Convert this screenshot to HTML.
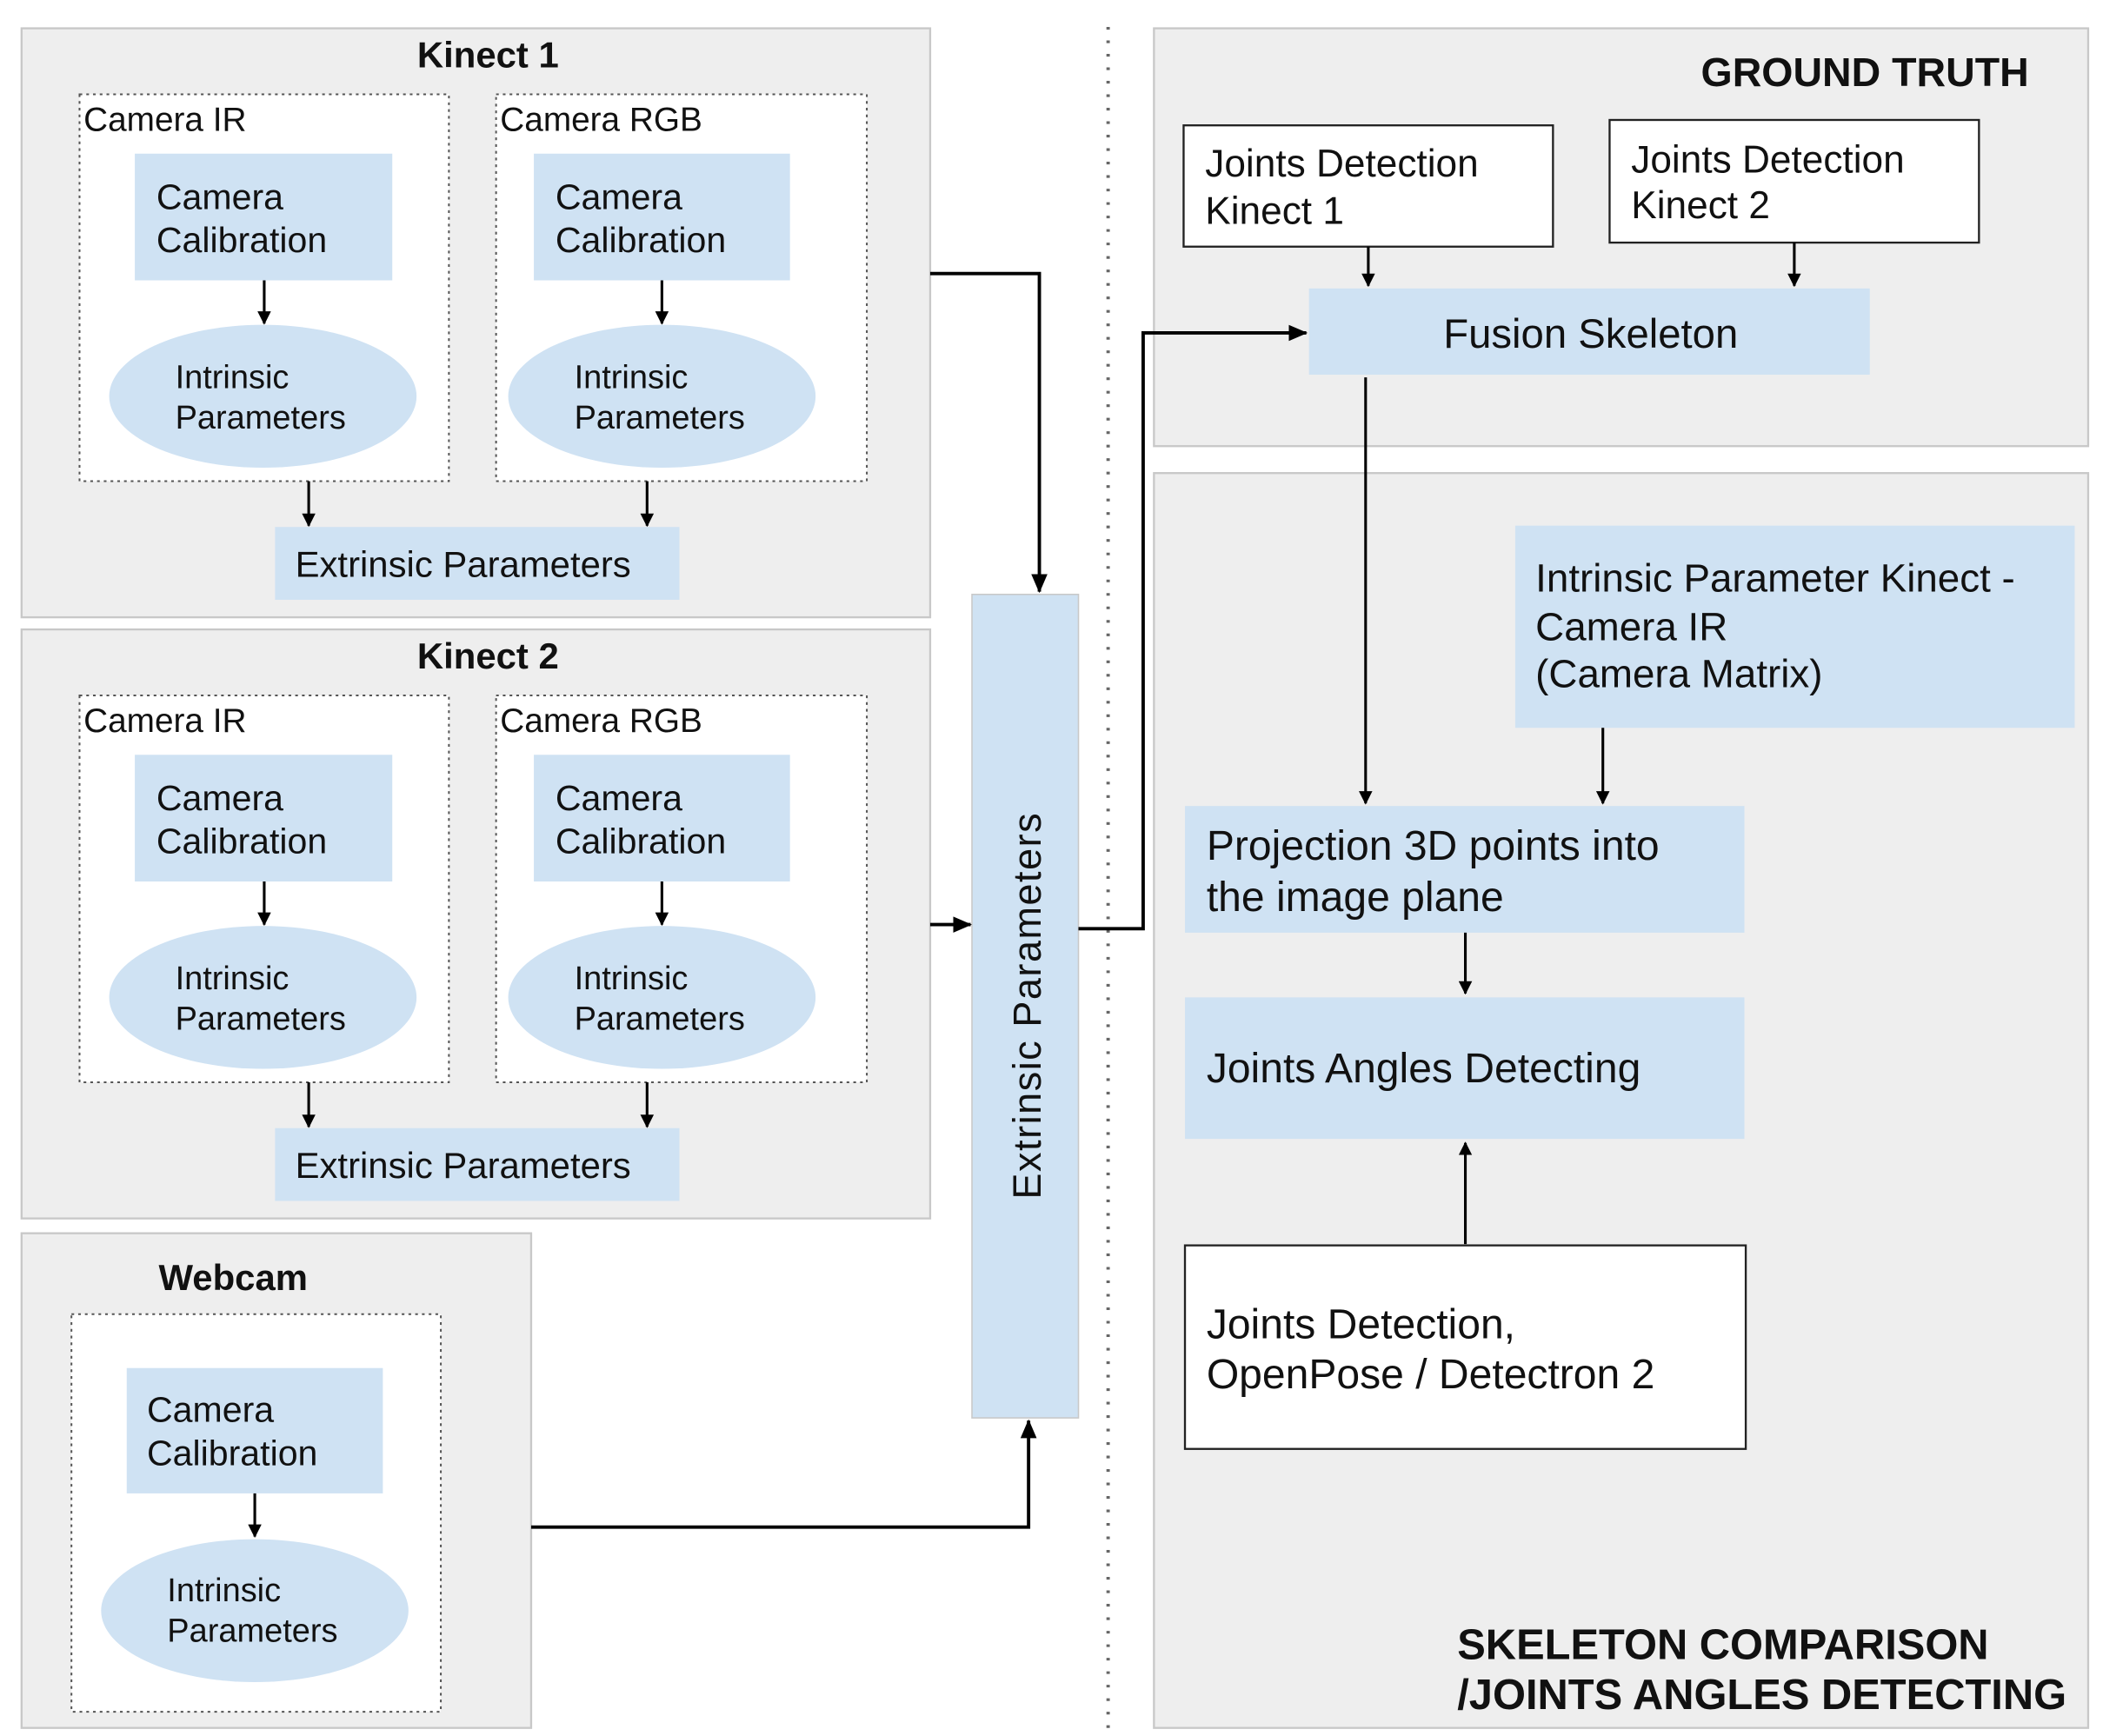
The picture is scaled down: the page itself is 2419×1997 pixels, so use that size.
<!DOCTYPE html>
<html><head><meta charset="utf-8"><style>
html,body{margin:0;padding:0;background:#fff;overflow:hidden}
svg{display:block}
text{font-family:"Liberation Sans",Arial,sans-serif;fill:#111}
</style></head><body>
<svg width="2419" height="1997" viewBox="0 0 1560 1288" preserveAspectRatio="none" xmlns="http://www.w3.org/2000/svg">
<defs>
<marker id="a" markerWidth="10" markerHeight="10" refX="9" refY="5" orient="auto" markerUnits="userSpaceOnUse" viewBox="0 0 10 10">
<path d="M0,0 L10,5 L0,10 z" fill="#000"/></marker>
<marker id="b" markerWidth="14" markerHeight="14" refX="13" refY="7" orient="auto" markerUnits="userSpaceOnUse" viewBox="0 0 14 14">
<path d="M0,1 L14,7 L0,13 z" fill="#000"/></marker>
</defs>
<g>
<rect x="16" y="21" width="674" height="437" fill="#eeeeee" stroke="#c8c8c8" stroke-width="1.5"/>
<text x="362" y="50" font-size="27" font-weight="bold" text-anchor="middle">Kinect 1</text>
<rect x="59" y="70" width="274" height="287" fill="#fff" stroke="#555" stroke-width="1.3" stroke-dasharray="2,3"/>
<text x="62" y="97" font-size="25">Camera IR</text>
<rect x="100" y="114" width="191" height="94" fill="#cfe2f3"/>
<text x="116" y="155" font-size="26.5">Camera</text><text x="116" y="187" font-size="26.5">Calibration</text>
<line x1="196" y1="208" x2="196" y2="240" stroke="#000" stroke-width="2" marker-end="url(#a)"/>
<ellipse cx="195" cy="294" rx="114" ry="53" fill="#cfe2f3"/>
<text x="130" y="288" font-size="24.5">Intrinsic</text><text x="130" y="318" font-size="24.5">Parameters</text>
<rect x="368" y="70" width="275" height="287" fill="#fff" stroke="#555" stroke-width="1.3" stroke-dasharray="2,3"/>
<text x="371" y="97" font-size="25">Camera RGB</text>
<rect x="396" y="114" width="190" height="94" fill="#cfe2f3"/>
<text x="412" y="155" font-size="26.5">Camera</text><text x="412" y="187" font-size="26.5">Calibration</text>
<line x1="491" y1="208" x2="491" y2="240" stroke="#000" stroke-width="2" marker-end="url(#a)"/>
<ellipse cx="491" cy="294" rx="114" ry="53" fill="#cfe2f3"/>
<text x="426" y="288" font-size="24.5">Intrinsic</text><text x="426" y="318" font-size="24.5">Parameters</text>
<line x1="229" y1="357" x2="229" y2="390" stroke="#000" stroke-width="2" marker-end="url(#a)"/>
<line x1="480" y1="357" x2="480" y2="390" stroke="#000" stroke-width="2" marker-end="url(#a)"/>
<rect x="204" y="391" width="300" height="54" fill="#cfe2f3"/>
<text x="219" y="428" font-size="27">Extrinsic Parameters</text>
</g>
<g transform="translate(0,446)">
<rect x="16" y="21" width="674" height="437" fill="#eeeeee" stroke="#c8c8c8" stroke-width="1.5"/>
<text x="362" y="50" font-size="27" font-weight="bold" text-anchor="middle">Kinect 2</text>
<rect x="59" y="70" width="274" height="287" fill="#fff" stroke="#555" stroke-width="1.3" stroke-dasharray="2,3"/>
<text x="62" y="97" font-size="25">Camera IR</text>
<rect x="100" y="114" width="191" height="94" fill="#cfe2f3"/>
<text x="116" y="155" font-size="26.5">Camera</text><text x="116" y="187" font-size="26.5">Calibration</text>
<line x1="196" y1="208" x2="196" y2="240" stroke="#000" stroke-width="2" marker-end="url(#a)"/>
<ellipse cx="195" cy="294" rx="114" ry="53" fill="#cfe2f3"/>
<text x="130" y="288" font-size="24.5">Intrinsic</text><text x="130" y="318" font-size="24.5">Parameters</text>
<rect x="368" y="70" width="275" height="287" fill="#fff" stroke="#555" stroke-width="1.3" stroke-dasharray="2,3"/>
<text x="371" y="97" font-size="25">Camera RGB</text>
<rect x="396" y="114" width="190" height="94" fill="#cfe2f3"/>
<text x="412" y="155" font-size="26.5">Camera</text><text x="412" y="187" font-size="26.5">Calibration</text>
<line x1="491" y1="208" x2="491" y2="240" stroke="#000" stroke-width="2" marker-end="url(#a)"/>
<ellipse cx="491" cy="294" rx="114" ry="53" fill="#cfe2f3"/>
<text x="426" y="288" font-size="24.5">Intrinsic</text><text x="426" y="318" font-size="24.5">Parameters</text>
<line x1="229" y1="357" x2="229" y2="390" stroke="#000" stroke-width="2" marker-end="url(#a)"/>
<line x1="480" y1="357" x2="480" y2="390" stroke="#000" stroke-width="2" marker-end="url(#a)"/>
<rect x="204" y="391" width="300" height="54" fill="#cfe2f3"/>
<text x="219" y="428" font-size="27">Extrinsic Parameters</text>
</g>
<rect x="16" y="915" width="378" height="367" fill="#eeeeee" stroke="#c8c8c8" stroke-width="1.5"/>
<text x="173" y="957" font-size="27" font-weight="bold" text-anchor="middle">Webcam</text>
<rect x="53" y="975" width="274" height="295" fill="#fff" stroke="#555" stroke-width="1.3" stroke-dasharray="2,3"/>
<rect x="94" y="1015" width="190" height="93" fill="#cfe2f3"/>
<text x="109" y="1055" font-size="26.5">Camera</text><text x="109" y="1087" font-size="26.5">Calibration</text>
<line x1="189" y1="1108" x2="189" y2="1140" stroke="#000" stroke-width="2" marker-end="url(#a)"/>
<ellipse cx="189" cy="1195" rx="114" ry="53" fill="#cfe2f3"/>
<text x="124" y="1188" font-size="24.5">Intrinsic</text><text x="124" y="1218" font-size="24.5">Parameters</text>
<rect x="721" y="441" width="79" height="611" fill="#cfe2f3" stroke="#c8c8c8" stroke-width="1"/>
<text transform="translate(772,746) rotate(-90)" font-size="29" text-anchor="middle" letter-spacing="1">Extrinsic Parameters</text>
<polyline points="394,1133 763,1133 763,1054" fill="none" stroke="#000" stroke-width="2.5" marker-end="url(#b)"/>
<polyline points="690,203 771,203 771,439" fill="none" stroke="#000" stroke-width="2.5" marker-end="url(#b)"/>
<line x1="690" y1="686" x2="720" y2="686" stroke="#000" stroke-width="2.5" marker-end="url(#b)"/>
<line x1="822" y1="20" x2="822" y2="1282" stroke="#666" stroke-width="2.5" stroke-dasharray="2,8"/>
<rect x="856" y="21" width="693" height="310" fill="#eeeeee" stroke="#c8c8c8" stroke-width="1.5"/>
<text x="1505" y="64" font-size="30" font-weight="bold" text-anchor="end">GROUND TRUTH</text>
<rect x="878" y="93" width="274" height="90" fill="#fff" stroke="#222" stroke-width="1.5"/>
<text x="894" y="131" font-size="28.5">Joints Detection</text><text x="894" y="166" font-size="28.5">Kinect 1</text>
<rect x="1194" y="89" width="274" height="91" fill="#fff" stroke="#222" stroke-width="1.5"/>
<text x="1210" y="128" font-size="28.5">Joints Detection</text><text x="1210" y="162" font-size="28.5">Kinect 2</text>
<line x1="1015" y1="183" x2="1015" y2="212" stroke="#000" stroke-width="2" marker-end="url(#a)"/>
<line x1="1331" y1="180" x2="1331" y2="212" stroke="#000" stroke-width="2" marker-end="url(#a)"/>
<rect x="856" y="351" width="693" height="931" fill="#eeeeee" stroke="#c8c8c8" stroke-width="1.5"/>
<rect x="971" y="214" width="416" height="64" fill="#cfe2f3"/>
<text x="1180" y="258" font-size="30.5" text-anchor="middle">Fusion Skeleton</text>
<polyline points="800,689 848,689 848,247 969,247" fill="none" stroke="#000" stroke-width="2.5" marker-end="url(#b)"/>
<line x1="1013" y1="280" x2="1013" y2="596" stroke="#000" stroke-width="2" marker-end="url(#a)"/>
<rect x="1124" y="390" width="415" height="150" fill="#cfe2f3"/>
<text x="1139" y="439" font-size="29.5">Intrinsic Parameter Kinect -</text>
<text x="1139" y="475" font-size="29.5">Camera IR</text>
<text x="1139" y="510" font-size="29.5">(Camera Matrix)</text>
<line x1="1189" y1="540" x2="1189" y2="596" stroke="#000" stroke-width="2" marker-end="url(#a)"/>
<rect x="879" y="598" width="415" height="94" fill="#cfe2f3"/>
<text x="895" y="638" font-size="31">Projection 3D points into</text>
<text x="895" y="676" font-size="31">the image plane</text>
<line x1="1087" y1="692" x2="1087" y2="737" stroke="#000" stroke-width="2" marker-end="url(#a)"/>
<rect x="879" y="740" width="415" height="105" fill="#cfe2f3"/>
<text x="895" y="803" font-size="31">Joints Angles Detecting</text>
<line x1="1087" y1="923" x2="1087" y2="848" stroke="#000" stroke-width="2" marker-end="url(#a)"/>
<rect x="879" y="924" width="416" height="151" fill="#fff" stroke="#222" stroke-width="1.5"/>
<text x="895" y="993" font-size="31">Joints Detection,</text>
<text x="895" y="1030" font-size="31">OpenPose / Detectron 2</text>
<text x="1081" y="1231" font-size="31.5" font-weight="bold">SKELETON COMPARISON</text>
<text x="1081" y="1268" font-size="31.5" font-weight="bold">/JOINTS ANGLES DETECTING</text>
</svg>
</body></html>
